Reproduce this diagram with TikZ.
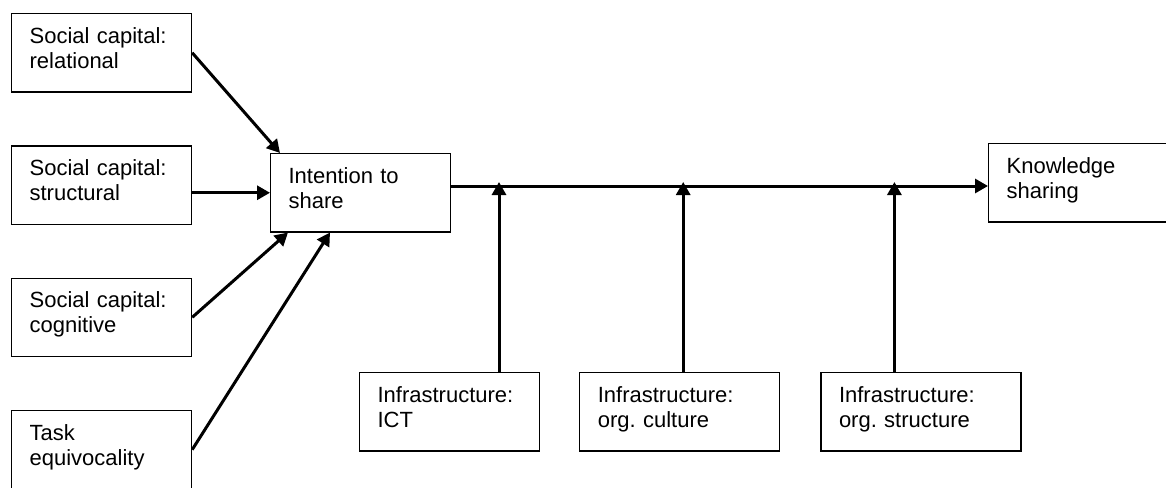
\documentclass[tikz,border=0pt]{standalone}
\usepackage{fontspec}
\setmainfont{Liberation Sans}
\frenchspacing
\usetikzlibrary{positioning}
\usetikzlibrary{calc}
\usetikzlibrary{arrows.meta}
\tikzset{>={Triangle[length=6.5pt,width=7pt]}}
\tikzset{box/.style={draw, rectangle, line width=0.6pt, align=left, text width=72pt, inner xsep=9pt, inner ysep=0pt, text height=14.75pt, text depth=24.4pt, font=\fontsize{11}{12.6}\selectfont}}
\tikzset{widebox/.style={box, text width=82pt}}
\tikzset{link/.style={->, line width=1.5pt}}

\begin{document}
\begin{tikzpicture}[x=0.5pt, y=-0.5pt]
\useasboundingbox (0,0) rectangle (1166,487);

% antecedents
\node[box, anchor=north west] (rel) at (11,13) {Social capital:\\relational};
\node[box] (str) [below=26.4pt of rel] {Social capital:\\structural};
\node[box] (cog) [below=26.4pt of str] {Social capital:\\cognitive};
\node[box] (task) [below=26.4pt of cog] {Task\\equivocality};

\node[box, anchor=north west] (int) at (270,153) {Intention to\\share};
\node[box, anchor=north west] (ks) at (988,143) {Knowledge\\sharing};

% moderators
\node[box, anchor=north west] (ict) at (359,372) {Infrastructure:\\ICT};
\node[widebox] (cult) [right=19.5pt of ict] {Infrastructure:\\org. culture};
\node[widebox] (orgs) [right=20pt of cult] {Infrastructure:\\org. structure};

\draw[link] (rel.east) -- ($(int.north west)+(10,0)$);
\draw[link] (str.east |- int.west) -- (int.west);
\draw[link] (cog.east) -- ($(int.south west)+(18,0)$);
\draw[link] (task.east) -- ($(int.south west)+(60,0)$);

\coordinate (line) at (0,186);
\coordinate (tip) at (0,182);
\draw[link] (int.east |- line) -- (ks.west |- line);

\coordinate (ictup) at ($(ict.north west)+(140,0)$);
\coordinate (cultup) at ($(cult.north west)+(104,0)$);
\coordinate (orgsup) at ($(orgs.north west)+(74,0)$);
\draw[link] (ictup) -- (ictup |- tip);
\draw[link] (cultup) -- (cultup |- tip);
\draw[link] (orgsup) -- (orgsup |- tip);

\end{tikzpicture}
\end{document}
